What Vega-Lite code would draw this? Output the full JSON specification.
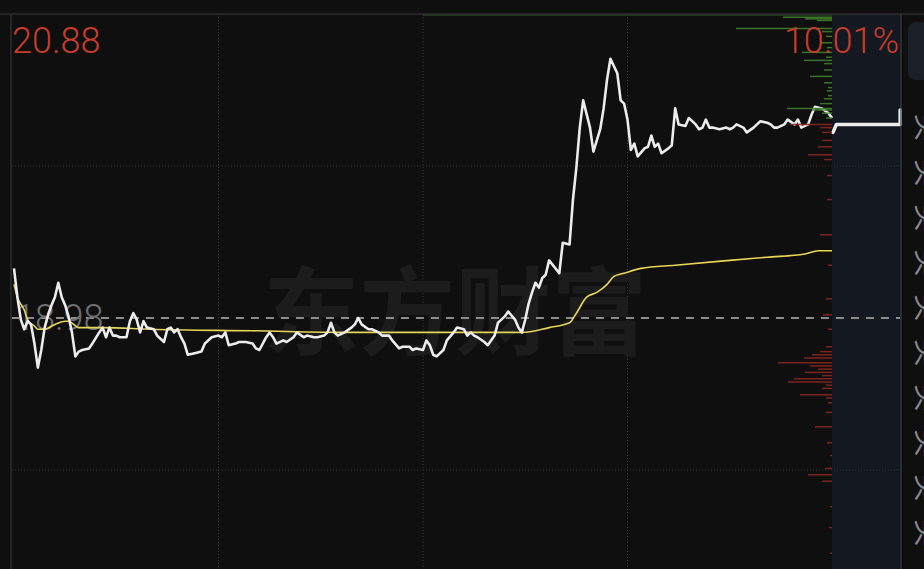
{
  "$schema": "https://vega.github.io/schema/vega-lite/v6.json",
  "width": 887,
  "height": 555,
  "padding": {"left": 14, "top": 14, "right": 23, "bottom": 0},
  "autosize": {"type": "none"},
  "background": "#0f0f0f",
  "config": {"view": {"stroke": null}},
  "datasets": {
    "price": [
      {"t":0,"p":19.29},{"t":1,"p":19.11},{"t":2,"p":18.97},{"t":3,"p":18.91},{"t":4,"p":18.96},{"t":5,"p":18.94},{"t":6,"p":18.82},{"t":7,"p":18.67},{"t":8,"p":18.78},{"t":9,"p":18.92},
      {"t":10,"p":19.00},{"t":11,"p":19.06},{"t":12,"p":19.11},{"t":13,"p":19.20},{"t":14,"p":19.11},{"t":15,"p":19.06},{"t":16,"p":18.99},{"t":17,"p":18.89},{"t":18,"p":18.74},{"t":19,"p":18.77},
      {"t":20,"p":18.78},{"t":22,"p":18.79},{"t":23,"p":18.82},{"t":25,"p":18.89},{"t":26,"p":18.92},{"t":27,"p":18.86},{"t":28,"p":18.92},{"t":29,"p":18.87},{"t":30,"p":18.87},{"t":31,"p":18.86},
      {"t":33,"p":18.86},{"t":34,"p":18.96},{"t":35,"p":19.01},{"t":36,"p":18.97},{"t":37,"p":18.89},{"t":38,"p":18.96},{"t":39,"p":18.92},{"t":41,"p":18.91},{"t":42,"p":18.87},{"t":44,"p":18.83},
      {"t":45,"p":18.91},{"t":46,"p":18.92},{"t":47,"p":18.89},{"t":48,"p":18.91},{"t":49,"p":18.86},{"t":50,"p":18.82},{"t":51,"p":18.75},{"t":53,"p":18.76},{"t":55,"p":18.77},{"t":56,"p":18.82},
      {"t":58,"p":18.86},{"t":60,"p":18.87},{"t":61,"p":18.86},{"t":62,"p":18.89},{"t":63,"p":18.81},{"t":65,"p":18.82},{"t":66,"p":18.83},{"t":68,"p":18.83},{"t":70,"p":18.82},{"t":71,"p":18.79},
      {"t":72,"p":18.78},{"t":74,"p":18.86},{"t":75,"p":18.89},{"t":76,"p":18.86},{"t":77,"p":18.82},{"t":79,"p":18.84},{"t":80,"p":18.83},{"t":82,"p":18.86},{"t":83,"p":18.89},{"t":85,"p":18.86},
      {"t":86,"p":18.87},{"t":88,"p":18.86},{"t":89,"p":18.86},{"t":91,"p":18.87},{"t":92,"p":18.89},{"t":93,"p":18.95},{"t":94,"p":18.89},{"t":95,"p":18.87},{"t":97,"p":18.89},{"t":99,"p":18.92},
      {"t":100,"p":18.94},{"t":101,"p":18.98},{"t":102,"p":18.94},{"t":104,"p":18.91},{"t":105,"p":18.91},{"t":107,"p":18.89},{"t":108,"p":18.87},{"t":110,"p":18.87},{"t":111,"p":18.84},{"t":113,"p":18.79},
      {"t":114,"p":18.80},{"t":116,"p":18.80},{"t":117,"p":18.78},{"t":118,"p":18.79},{"t":120,"p":18.78},{"t":121,"p":18.84},{"t":122,"p":18.81},{"t":123,"p":18.75},{"t":124,"p":18.74},{"t":126,"p":18.78},
      {"t":127,"p":18.84},{"t":129,"p":18.89},{"t":130,"p":18.92},{"t":132,"p":18.91},{"t":133,"p":18.87},{"t":134,"p":18.89},{"t":135,"p":18.87},{"t":136,"p":18.86},{"t":138,"p":18.83},{"t":139,"p":18.81},
      {"t":141,"p":18.87},{"t":142,"p":18.95},{"t":143,"p":18.97},{"t":144,"p":18.99},{"t":145,"p":19.02},{"t":147,"p":18.97},{"t":148,"p":18.92},{"t":149,"p":18.89},{"t":150,"p":18.97},{"t":151,"p":19.07},
      {"t":152,"p":19.14},{"t":153,"p":19.20},{"t":154,"p":19.17},{"t":155,"p":19.23},{"t":156,"p":19.25},{"t":157,"p":19.34},{"t":160,"p":19.26},{"t":161,"p":19.45},{"t":163,"p":19.44},{"t":164,"p":19.72},
      {"t":165,"p":19.92},{"t":166,"p":20.17},{"t":167,"p":20.34},{"t":169,"p":20.17},{"t":170,"p":20.02},{"t":172,"p":20.16},{"t":173,"p":20.29},{"t":174,"p":20.47},{"t":175,"p":20.60},{"t":177,"p":20.51},
      {"t":178,"p":20.34},{"t":179,"p":20.32},{"t":180,"p":20.22},{"t":181,"p":20.03},{"t":182,"p":20.07},{"t":183,"p":19.99},{"t":185,"p":20.04},{"t":186,"p":20.05},{"t":187,"p":20.12},{"t":188,"p":20.05},
      {"t":189,"p":20.07},{"t":190,"p":20.01},{"t":192,"p":20.04},{"t":193,"p":20.06},{"t":194,"p":20.29},{"t":195,"p":20.19},{"t":197,"p":20.18},{"t":198,"p":20.23},{"t":200,"p":20.19},{"t":201,"p":20.16},
      {"t":202,"p":20.17},{"t":203,"p":20.22},{"t":204,"p":20.17},{"t":205,"p":20.17},{"t":207,"p":20.16},{"t":209,"p":20.17},{"t":210,"p":20.16},{"t":211,"p":20.17},{"t":212,"p":20.19},{"t":214,"p":20.17},
      {"t":215,"p":20.14},{"t":217,"p":20.17},{"t":218,"p":20.19},{"t":219,"p":20.21},{"t":221,"p":20.20},{"t":222,"p":20.19},{"t":223,"p":20.17},{"t":224,"p":20.17},{"t":226,"p":20.19},{"t":227,"p":20.22},
      {"t":229,"p":20.19},{"t":230,"p":20.22},{"t":231,"p":20.17},{"t":233,"p":20.19},{"t":234,"p":20.25},{"t":235,"p":20.30},{"t":237,"p":20.29},{"t":239,"p":20.26},{"t":240,"p":20.23}
    ],
    "avg": [
      {"t":0,"p":19.19},{"t":1,"p":19.11},{"t":3,"p":19.03},{"t":4,"p":18.97},{"t":6,"p":18.93},{"t":7,"p":18.91},{"t":9,"p":18.91},{"t":12,"p":18.94},{"t":15,"p":18.96},{"t":16,"p":18.96},
      {"t":19,"p":18.92},{"t":22,"p":18.92},{"t":26,"p":18.92},{"t":40,"p":18.91},{"t":70,"p":18.90},{"t":99,"p":18.89},{"t":137,"p":18.89},{"t":149,"p":18.89},{"t":157,"p":18.92},{"t":163,"p":18.95},
      {"t":165,"p":19.01},{"t":168,"p":19.11},{"t":171,"p":19.14},{"t":174,"p":19.19},{"t":176,"p":19.24},{"t":179,"p":19.26},{"t":184,"p":19.29},{"t":194,"p":19.31},{"t":210,"p":19.34},{"t":221,"p":19.36},
      {"t":232,"p":19.38},{"t":236,"p":19.40},{"t":240,"p":19.40}
    ],
    "after": [
      {"t":240.3,"p":20.14},{"t":241.3,"p":20.19},{"t":260.0,"p":20.19},{"t":260.0,"p":20.28}
    ],
    "profile": [
      {"p":20.873,"v":409,"c":"g1"},{"p":20.86,"v":49,"c":"g"},{"p":20.85,"v":27,"c":"g"},{"p":20.84,"v":15,"c":"g"},{"p":20.79,"v":96,"c":"g"},{"p":20.77,"v":10,"c":"g"},
      {"p":20.74,"v":6,"c":"g"},{"p":20.70,"v":12,"c":"g"},{"p":20.67,"v":5,"c":"g"},{"p":20.64,"v":30,"c":"g"},{"p":20.61,"v":6,"c":"g"},{"p":20.59,"v":28,"c":"g"},{"p":20.57,"v":8,"c":"g"},{"p":20.53,"v":8,"c":"g"},{"p":20.49,"v":22,"c":"g"},
      {"p":20.45,"v":8,"c":"g"},{"p":20.42,"v":4,"c":"g"},{"p":20.40,"v":5,"c":"g"},{"p":20.37,"v":4,"c":"g"},{"p":20.35,"v":8,"c":"g"},{"p":20.32,"v":12,"c":"g"},{"p":20.29,"v":45,"c":"g"},{"p":20.28,"v":20,"c":"g"},
      {"p":20.26,"v":10,"c":"g"},{"p":20.23,"v":6,"c":"g"},
      {"p":20.19,"v":42,"c":"r"},{"p":20.17,"v":12,"c":"r"},{"p":20.14,"v":10,"c":"r"},{"p":20.09,"v":10,"c":"r"},{"p":20.05,"v":14,"c":"r"},{"p":20.00,"v":24,"c":"r"},
      {"p":19.97,"v":8,"c":"r"},{"p":19.87,"v":5,"c":"r"},{"p":19.72,"v":5,"c":"r"},{"p":19.50,"v":12,"c":"r"},{"p":19.31,"v":4,"c":"r"},{"p":19.10,"v":6,"c":"r"},
      {"p":19.00,"v":9,"c":"r"},{"p":18.91,"v":4,"c":"r"},{"p":18.80,"v":6,"c":"r"},{"p":18.77,"v":12,"c":"r"},{"p":18.75,"v":20,"c":"r"},{"p":18.73,"v":28,"c":"r"},
      {"p":18.70,"v":54,"c":"r"},{"p":18.68,"v":22,"c":"r"},{"p":18.66,"v":14,"c":"r"},{"p":18.64,"v":27,"c":"r"},{"p":18.62,"v":10,"c":"r"},{"p":18.60,"v":38,"c":"r"},
      {"p":18.58,"v":44,"c":"r"},{"p":18.56,"v":6,"c":"r"},{"p":18.54,"v":10,"c":"r"},{"p":18.50,"v":32,"c":"r"},{"p":18.48,"v":6,"c":"r"},{"p":18.45,"v":4,"c":"r"},
      {"p":18.39,"v":6,"c":"r"},{"p":18.30,"v":17,"c":"r"},{"p":18.20,"v":5,"c":"r"},{"p":18.12,"v":2,"c":"r"},{"p":18.04,"v":7,"c":"r"},{"p":18.00,"v":24,"c":"r"},
      {"p":17.96,"v":10,"c":"r"},{"p":17.80,"v":2,"c":"r"},{"p":17.67,"v":3,"c":"r"},{"p":17.51,"v":2,"c":"r"}
    ],
    "side": [
      {"t":267.4,"p":20.17,"s":"买"},{"t":267.4,"p":19.886,"s":"买"},{"t":267.4,"p":19.605,"s":"买"},{"t":267.4,"p":19.324,"s":"买"},{"t":267.4,"p":19.043,"s":"买"},
      {"t":267.4,"p":18.761,"s":"买"},{"t":267.4,"p":18.48,"s":"买"},{"t":267.4,"p":18.199,"s":"买"},{"t":267.4,"p":17.918,"s":"买"},{"t":267.4,"p":17.636,"s":"买"}
    ]
  },
  "resolve": {"scale": {"x": "independent"}},
  "layer": [
    {
      "layer": [
        {
          "data": {"values": [{"a": 240, "b": 260.25}]},
          "mark": {"type": "rect", "color": "#131821"},
          "encoding": {
            "x": {"field": "a", "type": "quantitative", "axis": null, "scale": {"domain": [0, 260.25], "nice": false, "zero": false}},
            "x2": {"field": "b"},
            "y": {"datum": 20.88, "type": "quantitative", "axis": null, "scale": {"domain": [17.41125, 20.88], "nice": false, "zero": false}},
            "y2": {"datum": 17.3}
          }
        },
        {
          "data": {"values": [{"p": 19.93}, {"p": 18.03}]},
          "mark": {"type": "rule", "color": "#3a3a3a", "strokeWidth": 1, "strokeDash": [1, 2]},
          "encoding": {
            "y": {"field": "p", "type": "quantitative", "axis": null, "scale": {"domain": [17.41125, 20.88], "nice": false, "zero": false}},
            "x": {"datum": -0.6, "type": "quantitative", "axis": null, "scale": {"domain": [0, 260.25], "nice": false, "zero": false}},
            "x2": {"datum": 260.25}
          }
        },
        {
          "data": {"values": [{"t": 60}, {"t": 120}, {"t": 180}]},
          "mark": {"type": "rule", "color": "#3a3a3a", "strokeWidth": 1, "strokeDash": [1, 2]},
          "encoding": {
            "x": {"field": "t", "type": "quantitative", "axis": null, "scale": {"domain": [0, 260.25], "nice": false, "zero": false}},
            "y": {"datum": 20.88, "type": "quantitative", "axis": null, "scale": {"domain": [17.41125, 20.88], "nice": false, "zero": false}},
            "y2": {"datum": 17.3}
          }
        },
        {
          "data": {"values": [{"t": 129.5, "p": 18.98, "s": "东方财富"}]},
          "mark": {"type": "text", "font": "Noto Sans CJK SC", "fontSize": 96, "fontWeight": "bold", "color": "#1c1c1c", "align": "center", "baseline": "middle"},
          "encoding": {
            "x": {"field": "t", "type": "quantitative", "axis": null, "scale": {"domain": [0, 260.25], "nice": false, "zero": false}},
            "y": {"field": "p", "type": "quantitative", "axis": null, "scale": {"domain": [17.41125, 20.88], "nice": false, "zero": false}},
            "text": {"field": "s"}
          }
        },
        {
          "data": {"values": [{"p": 18.98}]},
          "mark": {"type": "rule", "color": "#8c8c8c", "strokeWidth": 2, "strokeDash": [8, 7]},
          "encoding": {
            "y": {"field": "p", "type": "quantitative", "axis": null, "scale": {"domain": [17.41125, 20.88], "nice": false, "zero": false}},
            "x": {"datum": -0.9, "type": "quantitative", "axis": null, "scale": {"domain": [0, 260.25], "nice": false, "zero": false}},
            "x2": {"datum": 260.0}
          }
        },
        {
          "data": {"values": [{"t": 0, "p": 18.98, "s": "18.98"}]},
          "mark": {"type": "text", "font": "Roboto", "fontSize": 36, "fontWeight": 300, "color": "#6e6e6e", "align": "left", "baseline": "alphabetic", "dy": 12, "dx": 1},
          "encoding": {
            "x": {"field": "t", "type": "quantitative", "axis": null, "scale": {"domain": [0, 260.25], "nice": false, "zero": false}},
            "y": {"field": "p", "type": "quantitative", "axis": null, "scale": {"domain": [17.41125, 20.88], "nice": false, "zero": false}},
            "text": {"field": "s"}
          }
        },
        {
          "data": {"name": "avg"},
          "mark": {"type": "line", "color": "#e6d657", "strokeWidth": 1.6, "interpolate": "monotone"},
          "encoding": {
            "x": {"field": "t", "type": "quantitative", "axis": null, "scale": {"domain": [0, 260.25], "nice": false, "zero": false}},
            "y": {"field": "p", "type": "quantitative", "axis": null, "scale": {"domain": [17.41125, 20.88], "nice": false, "zero": false}}
          }
        },
        {
          "data": {"name": "price"},
          "mark": {"type": "line", "color": "#ececec", "strokeWidth": 2.6, "strokeJoin": "round"},
          "encoding": {
            "x": {"field": "t", "type": "quantitative", "axis": null, "scale": {"domain": [0, 260.25], "nice": false, "zero": false}},
            "y": {"field": "p", "type": "quantitative", "axis": null, "scale": {"domain": [17.41125, 20.88], "nice": false, "zero": false}}
          }
        },
        {
          "data": {"name": "after"},
          "mark": {"type": "line", "color": "#ececec", "strokeWidth": 3.5, "strokeJoin": "round", "strokeCap": "round"},
          "encoding": {
            "x": {"field": "t", "type": "quantitative", "axis": null, "scale": {"domain": [0, 260.25], "nice": false, "zero": false}},
            "y": {"field": "p", "type": "quantitative", "axis": null, "scale": {"domain": [17.41125, 20.88], "nice": false, "zero": false}}
          }
        }
      ]
    },
    {
      "data": {"name": "profile"},
      "mark": {"type": "rule", "strokeWidth": 1.5, "opacity": 0.9},
      "encoding": {
        "x": {"field": "v", "type": "quantitative", "axis": null, "scale": {"domain": [-69, 818], "reverse": true, "nice": false, "zero": false}},
        "x2": {"datum": 0},
        "y": {"field": "p", "type": "quantitative", "axis": null, "scale": {"domain": [17.41125, 20.88], "nice": false, "zero": false}},
        "color": {"field": "c", "type": "nominal", "legend": null, "scale": {"domain": ["g1", "g", "r"], "range": ["#2f4a27", "#3f7f2c", "#8a2620"]}}
      }
    },
    {
      "layer": [
        {
          "data": {"values": [{"a": -4.2, "b": 267.1}]},
          "mark": {"type": "rule", "color": "#2e2e2e", "strokeWidth": 1.5},
          "encoding": {
            "x": {"field": "a", "type": "quantitative", "axis": null, "scale": {"domain": [0, 260.25], "nice": false, "zero": false}},
            "x2": {"field": "b"},
            "y": {"datum": 20.88, "type": "quantitative", "axis": null, "scale": {"domain": [17.41125, 20.88], "nice": false, "zero": false}}
          }
        },
        {
          "data": {"values": [{"t": -0.9}]},
          "mark": {"type": "rule", "strokeWidth": 2, "color": "#262626"},
          "encoding": {
            "x": {"field": "t", "type": "quantitative", "axis": null, "scale": {"domain": [0, 260.25], "nice": false, "zero": false}},
            "y": {"datum": 20.88, "type": "quantitative", "axis": null, "scale": {"domain": [17.41125, 20.88], "nice": false, "zero": false}},
            "y2": {"datum": 17.3}
          }
        },
        {
          "data": {"values": [{"t": 260.25}]},
          "mark": {"type": "rule", "strokeWidth": 1.2, "color": "#3b3e44"},
          "encoding": {
            "x": {"field": "t", "type": "quantitative", "axis": null, "scale": {"domain": [0, 260.25], "nice": false, "zero": false}},
            "y": {"datum": 20.88, "type": "quantitative", "axis": null, "scale": {"domain": [17.41125, 20.88], "nice": false, "zero": false}},
            "y2": {"datum": 17.3}
          }
        },
        {
          "data": {"values": [{"a": 262.3, "b": 268.5}]},
          "mark": {"type": "rect", "color": "#1a1f28", "cornerRadius": 8},
          "encoding": {
            "x": {"field": "a", "type": "quantitative", "axis": null, "scale": {"domain": [0, 260.25], "nice": false, "zero": false}},
            "x2": {"field": "b"},
            "y": {"datum": 20.83, "type": "quantitative", "axis": null, "scale": {"domain": [17.41125, 20.88], "nice": false, "zero": false}},
            "y2": {"datum": 20.4675}
          }
        },
        {
          "data": {"name": "side"},
          "mark": {"type": "text", "font": "Noto Sans CJK SC", "fontSize": 28, "color": "#8a8a8a", "angle": 90, "align": "center", "baseline": "middle"},
          "encoding": {
            "x": {"field": "t", "type": "quantitative", "axis": null, "scale": {"domain": [0, 260.25], "nice": false, "zero": false}},
            "y": {"field": "p", "type": "quantitative", "axis": null, "scale": {"domain": [17.41125, 20.88], "nice": false, "zero": false}},
            "text": {"field": "s"}
          }
        },
        {
          "data": {"values": [{"t": 0, "p": 20.88, "s": "20.88"}]},
          "mark": {"type": "text", "font": "Roboto", "fontSize": 36, "fontWeight": 300, "color": "#c83c2c", "align": "left", "baseline": "alphabetic", "dy": 39, "dx": -2},
          "encoding": {
            "x": {"field": "t", "type": "quantitative", "axis": null, "scale": {"domain": [0, 260.25], "nice": false, "zero": false}},
            "y": {"field": "p", "type": "quantitative", "axis": null, "scale": {"domain": [17.41125, 20.88], "nice": false, "zero": false}},
            "text": {"field": "s"}
          }
        },
        {
          "data": {"values": [{"t": 260.25, "p": 20.88, "s": "10.01%"}]},
          "mark": {"type": "text", "font": "Roboto", "fontSize": 36, "fontWeight": 300, "color": "#c83c2c", "align": "right", "baseline": "alphabetic", "dy": 39, "dx": -2},
          "encoding": {
            "x": {"field": "t", "type": "quantitative", "axis": null, "scale": {"domain": [0, 260.25], "nice": false, "zero": false}},
            "y": {"field": "p", "type": "quantitative", "axis": null, "scale": {"domain": [17.41125, 20.88], "nice": false, "zero": false}},
            "text": {"field": "s"}
          }
        }
      ]
    }
  ]
}
